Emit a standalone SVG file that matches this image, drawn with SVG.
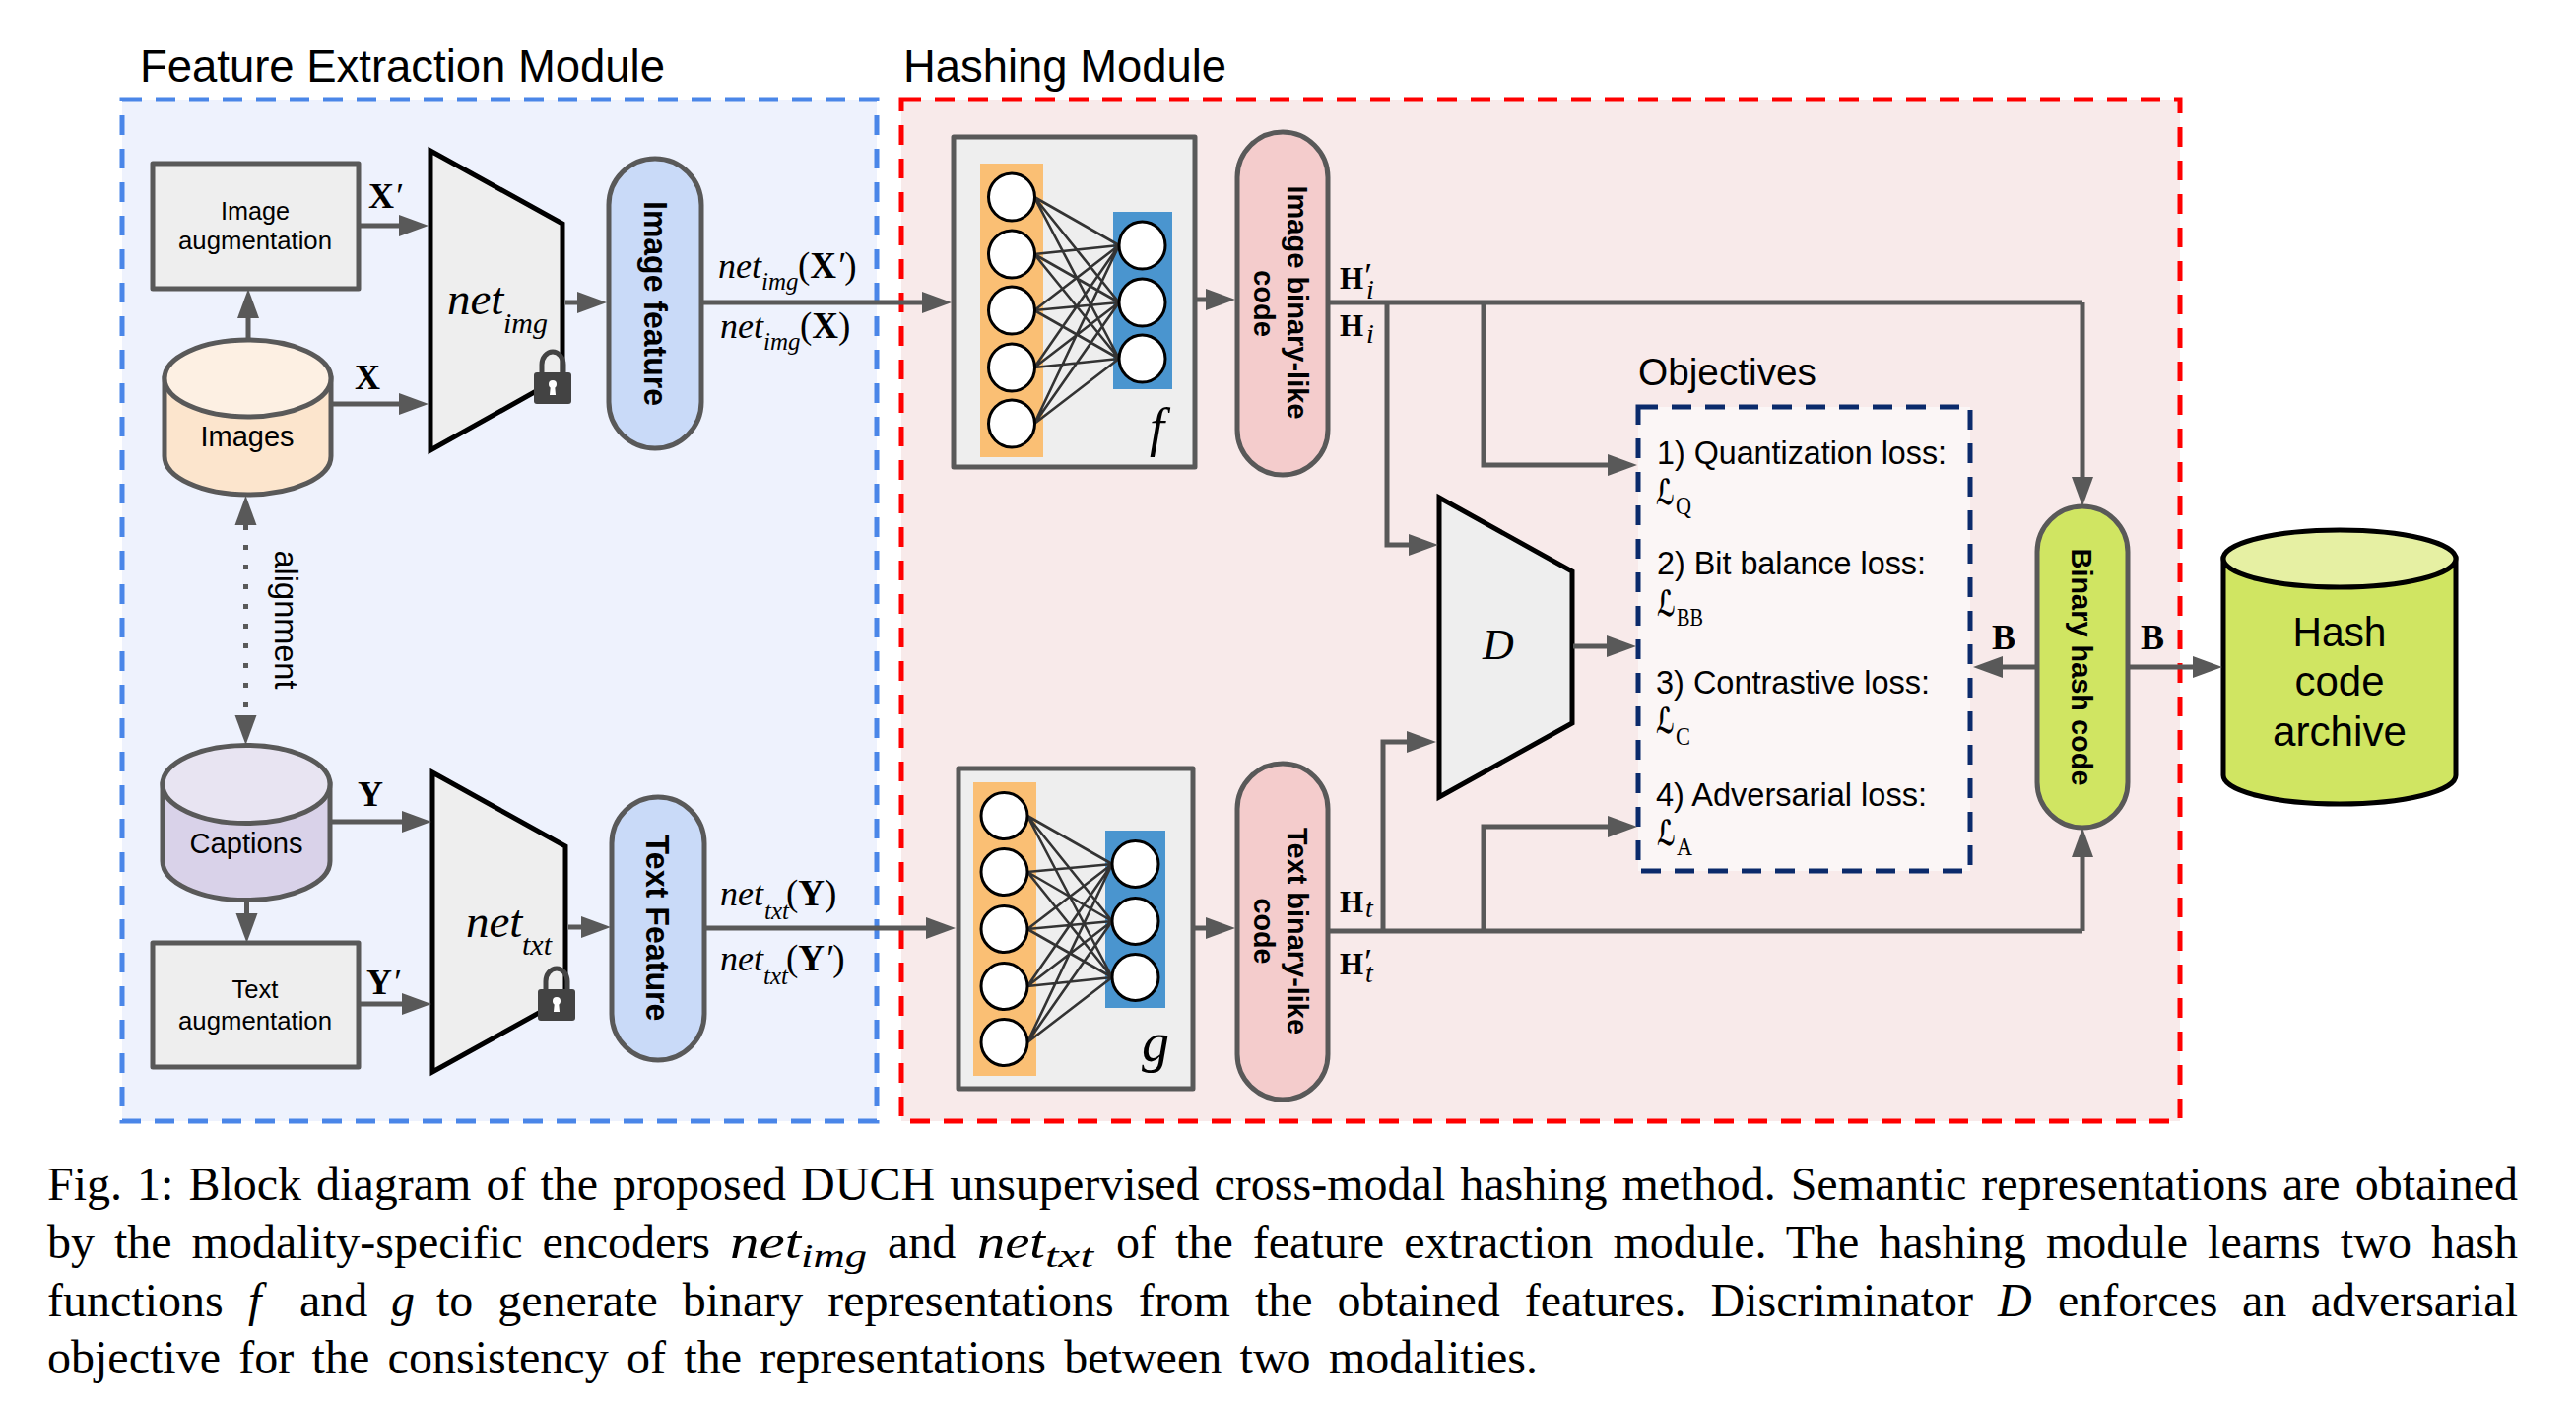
<svg xmlns="http://www.w3.org/2000/svg" width="2615" height="1424" viewBox="0 0 2615 1424">
<style>
text{fill:#000}
.s{font-family:"Liberation Sans",Arial,sans-serif}
.b{font-family:"Liberation Sans",Arial,sans-serif;font-weight:700;text-anchor:middle}
.r{font-family:"Liberation Serif","Times New Roman",serif}
.i{font-family:"Liberation Serif","Times New Roman",serif;font-style:italic}
.l{font-family:"DejaVu Sans",sans-serif;font-style:italic;font-weight:700}
.bd{font-family:"Liberation Serif","Times New Roman",serif;font-weight:700}
.m{text-anchor:middle}
.box{fill:#eeeeee;stroke:#595959;stroke-width:5;stroke-linejoin:round}
.trap{fill:#eeeeee;stroke:#000;stroke-width:5;stroke-linejoin:miter}
.pill{stroke:#595959;stroke-width:5}
.cyl{stroke:#595959;stroke-width:5}
.circ{fill:#fff;stroke:#000;stroke-width:3}
.nn{fill:none;stroke:#333;stroke-width:2.6}
.con{fill:none;stroke:#595959;stroke-width:5;marker-end:url(#ah)}
.plain{fill:none;stroke:#595959;stroke-width:5}
.dash{stroke-width:5;stroke-dasharray:20 14}
</style>
<defs>
<marker id="ah" markerUnits="userSpaceOnUse" markerWidth="32" markerHeight="24" refX="20" refY="12" orient="auto-start-reverse"><path d="M0,1 L30,12 L0,23 z" fill="#595959"/></marker>
<g id="lock"><path d="M-11,20 V10 a11,13 0 0 1 22,0 V20" fill="none" stroke="#434343" stroke-width="5"/><rect x="-19" y="18" width="38" height="32" rx="3" fill="#434343"/><circle cx="0" cy="30" r="4" fill="#fff"/><path d="M-2,30 h4 l1,11 h-6 z" fill="#fff"/></g>
</defs>
<rect width="2615" height="1424" fill="#fff"/>

<g id="feature-extraction-module">
<rect x="124" y="101" width="766" height="1037" fill="#eef2fd" stroke="#4a86e8" class="dash"/>
<text class="s" x="142" y="83" font-size="46" textLength="533" lengthAdjust="spacingAndGlyphs">Feature Extraction Module</text>
</g>
<g id="hashing-module">
<rect x="915" y="101" width="1298" height="1037" fill="#f8eaea" stroke="#ff0000" class="dash"/>
<text class="s" x="917" y="83" font-size="46" textLength="328" lengthAdjust="spacingAndGlyphs">Hashing Module</text>
</g>

<g id="image-augmentation">
<rect class="box" x="155" y="166" width="209" height="127"/>
<text class="s m" x="259" y="223" font-size="25" textLength="70" lengthAdjust="spacingAndGlyphs">Image</text>
<text class="s m" x="259" y="253" font-size="25" textLength="156" lengthAdjust="spacingAndGlyphs">augmentation</text>
</g>
<g id="images">
<path class="cyl" fill="#fce5cd" d="M167,384 V463 A84.500,39 0 0 0 336,463 V384 z"/>
<ellipse class="cyl" fill="#fdf0e3" cx="251.500" cy="384" rx="84.500" ry="39"/>
<text class="s m" x="251" y="453" font-size="30" textLength="95" lengthAdjust="spacingAndGlyphs">Images</text>
</g>
<g id="net-img">
<path class="trap" d="M437,153 L571,227 V382 L437,457 z"/>
<text class="i" x="454" y="319" font-size="47">net</text>
<text class="i" x="511" y="338" font-size="30">img</text>
<use href="#lock" x="561" y="360"/>
</g>
<g id="image-feature">
<rect class="pill" fill="#c9daf8" x="618" y="161" width="94" height="294" rx="47"/>
<text class="b" transform="translate(654,308) rotate(90)" font-size="33" textLength="208" lengthAdjust="spacingAndGlyphs">Image feature</text>
</g>
<g id="captions">
<path class="cyl" fill="#d9d2e9" d="M165,796 V874 A85,39.500 0 0 0 335,874 V796 z"/>
<ellipse class="cyl" fill="#e8e4f2" cx="250" cy="796" rx="85" ry="39.500"/>
<text class="s m" x="250" y="866" font-size="30" textLength="115" lengthAdjust="spacingAndGlyphs">Captions</text>
</g>
<g id="text-augmentation">
<rect class="box" x="155" y="957" width="209" height="126"/>
<text class="s m" x="259" y="1013" font-size="25" textLength="47" lengthAdjust="spacingAndGlyphs">Text</text>
<text class="s m" x="259" y="1045" font-size="25" textLength="156" lengthAdjust="spacingAndGlyphs">augmentation</text>
</g>
<g id="net-txt">
<path class="trap" d="M439,784 L574,859 V1013 L439,1088 z"/>
<text class="i" x="473" y="951" font-size="47">net</text>
<text class="i" x="530" y="969" font-size="30">txt</text>
<use href="#lock" x="565" y="986"/>
</g>
<g id="text-feature">
<rect class="pill" fill="#c9daf8" x="621" y="809" width="94" height="267" rx="47"/>
<text class="b" transform="translate(656,942) rotate(90)" font-size="33" textLength="189" lengthAdjust="spacingAndGlyphs">Text Feature</text>
</g>

<g id="f-network">
<rect class="box" x="968" y="139" width="245" height="335"/>
<rect x="995" y="166" width="64" height="298" fill="#fabf74"/>
<rect x="1130" y="215" width="60" height="180" fill="#4a95cf"/>
<path class="nn" d="M1050,200L1136,249M1050,200L1136,307M1050,200L1136,364M1050,258L1136,249M1050,258L1136,307M1050,258L1136,364M1050,315L1136,249M1050,315L1136,307M1050,315L1136,364M1050,373L1136,249M1050,373L1136,307M1050,373L1136,364M1050,430L1136,249M1050,430L1136,307M1050,430L1136,364"/>
<ellipse class="circ" cx="1027" cy="200" rx="23.500" ry="24"/><ellipse class="circ" cx="1027" cy="258" rx="23.500" ry="24"/><ellipse class="circ" cx="1027" cy="315" rx="23.500" ry="24"/><ellipse class="circ" cx="1027" cy="373" rx="23.500" ry="24"/><ellipse class="circ" cx="1027" cy="430" rx="23.500" ry="24"/>
<ellipse class="circ" cx="1159.500" cy="249" rx="23.500" ry="24"/><ellipse class="circ" cx="1159.500" cy="307" rx="23.500" ry="24"/><ellipse class="circ" cx="1159.500" cy="364" rx="23.500" ry="24"/>
<text class="i" x="1167" y="452" font-size="54">f</text>
</g>
<g id="image-binary-code">
<rect class="pill" fill="#f4cccc" x="1256" y="134" width="92" height="348" rx="46"/>
<text class="b" transform="translate(1307,307) rotate(90)" font-size="30" textLength="237" lengthAdjust="spacingAndGlyphs">Image binary-like</text>
<text class="b" transform="translate(1273,308) rotate(90)" font-size="30" textLength="68" lengthAdjust="spacingAndGlyphs">code</text>
</g>
<g id="g-network">
<rect class="box" x="973" y="780" width="238" height="325"/>
<rect x="988" y="794" width="64" height="298" fill="#fabf74"/>
<rect x="1122" y="843" width="61" height="180" fill="#4a95cf"/>
<path class="nn" d="M1043,828L1129,877M1043,828L1129,935M1043,828L1129,992M1043,885L1129,877M1043,885L1129,935M1043,885L1129,992M1043,943L1129,877M1043,943L1129,935M1043,943L1129,992M1043,1001L1129,877M1043,1001L1129,935M1043,1001L1129,992M1043,1058L1129,877M1043,1058L1129,935M1043,1058L1129,992"/>
<ellipse class="circ" cx="1019.500" cy="828" rx="23.500" ry="23.500"/><ellipse class="circ" cx="1019.500" cy="885" rx="23.500" ry="23.500"/><ellipse class="circ" cx="1019.500" cy="943" rx="23.500" ry="23.500"/><ellipse class="circ" cx="1019.500" cy="1001" rx="23.500" ry="23.500"/><ellipse class="circ" cx="1019.500" cy="1058" rx="23.500" ry="23.500"/>
<ellipse class="circ" cx="1152.500" cy="877" rx="23.500" ry="23.500"/><ellipse class="circ" cx="1152.500" cy="935" rx="23.500" ry="23.500"/><ellipse class="circ" cx="1152.500" cy="992" rx="23.500" ry="23.500"/>
<text class="i" x="1159" y="1077" font-size="56">g</text>
</g>
<g id="text-binary-code">
<rect class="pill" fill="#f4cccc" x="1256" y="775" width="92" height="341" rx="46"/>
<text class="b" transform="translate(1307,945) rotate(90)" font-size="30" textLength="210" lengthAdjust="spacingAndGlyphs">Text binary-like</text>
<text class="b" transform="translate(1273,945) rotate(90)" font-size="30" textLength="67" lengthAdjust="spacingAndGlyphs">code</text>
</g>
<g id="discriminator">
<path class="trap" d="M1461,505 L1596,580 V734 L1461,809 z"/>
<text class="i" x="1505" y="669" font-size="44">D</text>
</g>
<g id="objectives">
<text class="s" x="1663" y="391" font-size="39" textLength="181" lengthAdjust="spacingAndGlyphs">Objectives</text>
<rect x="1663" y="413" width="337" height="471" fill="#fbf6f6" stroke="#0b2a6b" class="dash"/>
<text class="s" x="1682" y="471" font-size="33" textLength="294" lengthAdjust="spacingAndGlyphs">1) Quantization loss:</text>
<text class="l" x="1681" y="512" font-size="36" textLength="19" lengthAdjust="spacingAndGlyphs">ℒ</text><text class="r" x="1701" y="522" font-size="25" textLength="16" lengthAdjust="spacingAndGlyphs">Q</text>
<text class="s" x="1682" y="583" font-size="33" textLength="273" lengthAdjust="spacingAndGlyphs">2) Bit balance loss:</text>
<text class="l" x="1682" y="625" font-size="36" textLength="19" lengthAdjust="spacingAndGlyphs">ℒ</text><text class="r" x="1702" y="635" font-size="25" textLength="27" lengthAdjust="spacingAndGlyphs">BB</text>
<text class="s" x="1681" y="704" font-size="33" textLength="278" lengthAdjust="spacingAndGlyphs">3) Contrastive loss:</text>
<text class="l" x="1681" y="744" font-size="36" textLength="19" lengthAdjust="spacingAndGlyphs">ℒ</text><text class="r" x="1701" y="756" font-size="25" textLength="15" lengthAdjust="spacingAndGlyphs">C</text>
<text class="s" x="1681" y="818" font-size="33" textLength="275" lengthAdjust="spacingAndGlyphs">4) Adversarial loss:</text>
<text class="l" x="1682" y="858" font-size="36" textLength="19" lengthAdjust="spacingAndGlyphs">ℒ</text><text class="r" x="1702" y="868" font-size="25" textLength="16" lengthAdjust="spacingAndGlyphs">A</text>
</g>
<g id="binary-hash-code">
<rect class="pill" fill="#d0e562" x="2068" y="514" width="92" height="326" rx="46"/>
<text class="b" transform="translate(2103,677) rotate(90)" font-size="30" textLength="241" lengthAdjust="spacingAndGlyphs">Binary hash code</text>
</g>
<g id="hash-code-archive">
<path fill="#d0e562" stroke="#000" stroke-width="5" d="M2257,567 V787 A118,29 0 0 0 2493,787 V567 z"/>
<ellipse fill="#e6f0a3" stroke="#000" stroke-width="5" cx="2375" cy="567" rx="118" ry="29"/>
<text class="s m" x="2375" y="656" font-size="43" textLength="95" lengthAdjust="spacingAndGlyphs">Hash</text>
<text class="s m" x="2375" y="706" font-size="43" textLength="91" lengthAdjust="spacingAndGlyphs">code</text>
<text class="s m" x="2375" y="757" font-size="43" textLength="136" lengthAdjust="spacingAndGlyphs">archive</text>
</g>

<g id="connectors">
<path class="con" d="M364,229 H425"/>
<path class="con" d="M336,410 H425"/>
<path class="con" d="M252,345 V303"/>
<path class="con" d="M574,307 H606"/>
<path class="con" d="M712,307 H956"/>
<path class="con" d="M1213,304 H1244"/>
<path class="con" d="M335,834 H428"/>
<path class="con" d="M364,1019 H428"/>
<path class="con" d="M250.500,914 V947"/>
<path class="con" d="M577,941 H610"/>
<path class="con" d="M715,942 H960"/>
<path class="con" d="M1211,942 H1244"/>
<path d="M249.500,513 V746" fill="none" stroke="#595959" stroke-width="5" stroke-dasharray="5 15" marker-start="url(#ah)" marker-end="url(#ah)"/>
<path class="plain" d="M1348,307 H2114"/>
<path class="con" d="M2114,307 V504"/>
<path class="con" d="M1408,307 V553 H1450"/>
<path class="con" d="M1506,307 V472 H1652"/>
<path class="plain" d="M1348,945 H2114"/>
<path class="con" d="M2114,945 V850"/>
<path class="con" d="M1404,945 V753 H1448"/>
<path class="con" d="M1506,945 V839 H1652"/>
<path class="con" d="M1597,656 H1651"/>
<path class="con" d="M2068,677 H2013"/>
<path class="con" d="M2160,677 H2246"/>
</g>

<g id="connector-labels">
<text class="bd" x="374" y="211" font-size="36">X<tspan class="i" font-weight="400" font-size="36">′</tspan></text>
<text class="bd" x="360" y="395" font-size="36">X</text>
<text class="bd" x="363" y="818" font-size="36">Y</text>
<text class="bd" x="372" y="1009" font-size="36">Y<tspan class="i" font-weight="400" font-size="36">′</tspan></text>
<text class="i" x="729" y="282" font-size="36">net</text><text class="i" x="773" y="294" font-size="25">img</text><text class="r" x="810" y="282" font-size="37">(<tspan class="bd">X</tspan><tspan class="i">′</tspan>)</text>
<text class="i" x="731" y="343" font-size="36">net</text><text class="i" x="775" y="355" font-size="25">img</text><text class="r" x="812" y="343" font-size="37">(<tspan class="bd">X</tspan>)</text>
<text class="i" x="731" y="919" font-size="36">net</text><text class="i" x="776" y="933" font-size="25">txt</text><text class="r" x="798" y="919" font-size="37">(<tspan class="bd">Y</tspan>)</text>
<text class="i" x="731" y="985" font-size="36">net</text><text class="i" x="775" y="999" font-size="25">txt</text><text class="r" x="798" y="985" font-size="37">(<tspan class="bd">Y</tspan><tspan class="i">′</tspan>)</text>
<text class="bd" x="1360" y="293" font-size="31">H</text><text class="i" x="1383" y="292" font-size="36">′</text><text class="i" x="1387" y="303" font-size="28">i</text>
<text class="bd" x="1360" y="341" font-size="31">H</text><text class="i" x="1387" y="348" font-size="28">i</text>
<text class="bd" x="1360" y="926" font-size="31">H</text><text class="i" x="1386" y="931" font-size="28">t</text>
<text class="bd" x="1360" y="989" font-size="31">H</text><text class="i" x="1383" y="988" font-size="36">′</text><text class="i" x="1386" y="997" font-size="28">t</text>
<text class="bd" x="2022" y="659" font-size="36">B</text>
<text class="bd" x="2173" y="659" font-size="36">B</text>
<text class="s m" transform="translate(279,629) rotate(90)" font-size="32.500">alignment</text>
</g>

<g id="caption" font-size="48">
<text class="r" x="48" y="1218" word-spacing="3" textLength="2508">Fig. 1: Block diagram of the proposed DUCH unsupervised cross-modal hashing method. Semantic representations are obtained</text>
<text class="r" x="48" y="1277" word-spacing="8" textLength="673">by the modality-specific encoders</text>
<text class="i" x="741" y="1277" textLength="72" lengthAdjust="spacingAndGlyphs">net</text><text class="i" x="813" y="1286" font-size="34" textLength="67" lengthAdjust="spacingAndGlyphs">img</text>
<text class="r" x="901" y="1277">and</text>
<text class="i" x="992" y="1277" textLength="69" lengthAdjust="spacingAndGlyphs">net</text><text class="i" x="1061" y="1286" font-size="34" textLength="49" lengthAdjust="spacingAndGlyphs">txt</text>
<text class="r" x="1133" y="1277" word-spacing="8" textLength="1423">of the feature extraction module. The hashing module learns two hash</text>
<text class="r" x="48" y="1336">functions</text>
<text class="i" x="252" y="1336">f</text>
<text class="r" x="304" y="1336">and</text>
<text class="i" x="397" y="1336">g</text>
<text class="r" x="443" y="1336" word-spacing="13" textLength="1560">to generate binary representations from the obtained features. Discriminator</text>
<text class="i" x="2028" y="1336">D</text>
<text class="r" x="2089" y="1336" word-spacing="12.500" textLength="467">enforces an adversarial</text>
<text class="r" x="48" y="1394" word-spacing="6.300" textLength="1513">objective for the consistency of the representations between two modalities.</text>
</g>
</svg>
